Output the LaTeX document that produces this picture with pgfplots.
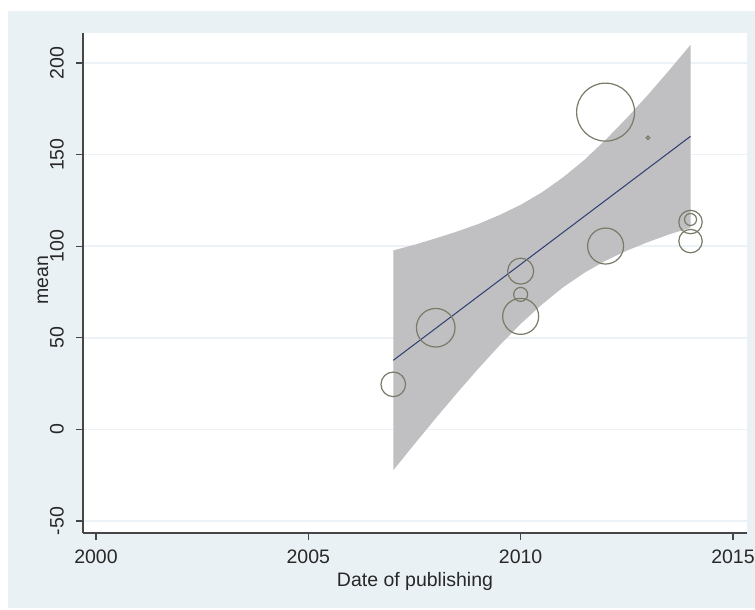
\documentclass[border=0pt]{standalone}
\usepackage{fontspec}
\setmainfont{Liberation Sans}
\usepackage{pgfplots}
\usepackage{pgfplotstable}
\pgfplotsset{compat=1.18}
\definecolor{bgc}{RGB}{234,241,244}
\definecolor{bandc}{RGB}{192,192,194}
\definecolor{lnc}{RGB}{45,60,115}
\definecolor{circc}{RGB}{122,122,104}
\definecolor{axc}{RGB}{70,70,70}
\definecolor{gridc}{RGB}{236,242,245}
\definecolor{txtc}{RGB}{40,40,40}

% confidence band: upper edge left to right, then lower edge right to left
\pgfplotstableread{
x y
2007 97.7
2007.5 100.8
2008 104.3
2008.5 108.0
2009 112.1
2009.5 117.0
2010 122.6
2010.5 129.4
2011 137.6
2011.5 147.1
2012 158.1
2012.5 170.0
2013 182.7
2013.5 196.1
2014 209.9
2014 110.1
2013.5 106.5
2013 102.3
2012.5 97.6
2012 92.1
2011.5 85.5
2011 77.6
2010.5 68.2
2010 57.6
2009.5 45.8
2009 33.1
2008.5 19.8
2008 6.1
2007.5 -8.0
2007 -22.3
}\bandtable

\pgfplotstableread{
x y r
2007 24.6 12.3
2008 55.5 19.3
2010 86.4 13
2010 73.7 7
2010 61.7 18
2012 173.2 29
2012 100.1 18
2013 159.2 1.8
2014 113.2 11.7
2014 114.6 6
2014 102.8 11.7
}\pointtable

\begin{document}
\fontsize{19.5}{23}\selectfont
\begin{tikzpicture}
\fill[white] (0,0) rectangle (755pt,610pt);
\fill[bgc] (8pt,2pt) rectangle (755pt,599pt);
\begin{axis}[
  at={(83pt,77pt)}, anchor=south west,
  scale only axis, width=664pt, height=500pt,
  xmin=1999.694, xmax=2015.33, ymin=-56.55, ymax=216.4,
  axis lines*=left,
  axis line style={axc, line width=1.2pt},
  axis background/.style={fill=white},
  xtick={2000,2005,2010,2015}, ytick={-50,0,50,100,150,200},
  tick align=outside, major tick length=7pt,
  tick style={axc, line width=1.2pt},
  ymajorgrids, grid style={gridc, line width=1.5pt},
  /pgf/number format/assume math mode=true,
  /pgf/number format/1000 sep={},
  xticklabel style={anchor=north, inner sep=0pt, text=txtc},
  yticklabel style={rotate=90, anchor=south, inner sep=0pt, text=txtc},
  xticklabel shift=10pt, yticklabel shift=12pt,
  xlabel={Date of publishing}, ylabel={mean},
  xlabel style={at={(axis description cs:0.5,-0.078)}, anchor=north, inner sep=0pt, text=txtc},
  ylabel style={at={(axis description cs:-0.0602,0.506)}, anchor=center, inner sep=0pt, text=txtc},
]
\addplot[fill=bandc, draw=none] table[x=x, y=y] {\bandtable} -- cycle;
\addplot[scatter, only marks, mark=o, line width=1.2pt,
  scatter/use mapped color={draw=circc},
  visualization depends on={\thisrow{r}\as\rr},
  scatter/@pre marker code/.append style={/tikz/mark size=\rr pt}]
  table[x=x, y=y] {\pointtable};
\addplot[lnc, line width=1pt] coordinates {(2007,37.7) (2014,160.0)};
\end{axis}
\pgfresetboundingbox
\path[use as bounding box] (0,0) rectangle (755pt,610pt);
\end{tikzpicture}
\end{document}
